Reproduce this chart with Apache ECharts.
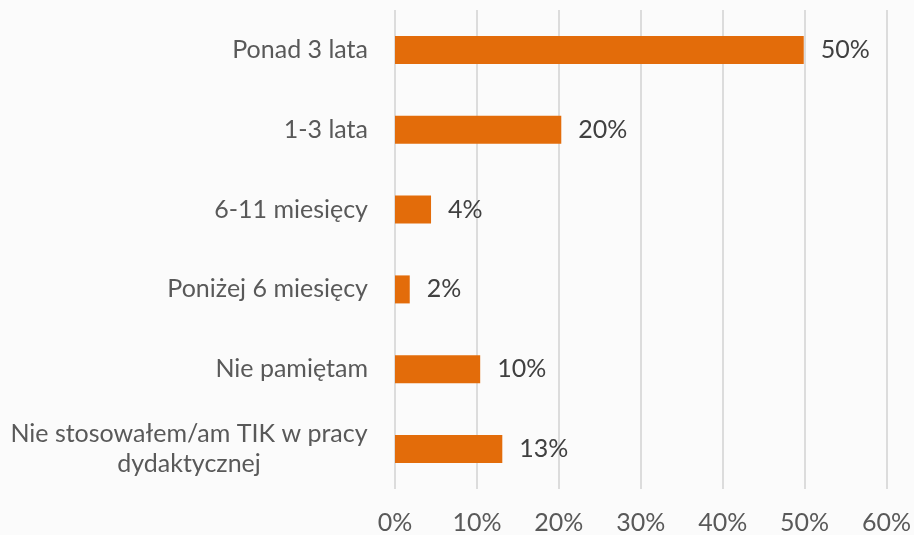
<!DOCTYPE html>
<html>
<head>
<meta charset="utf-8">
<script src="https://cdn.jsdelivr.net/npm/echarts@6/dist/echarts.min.js"></script>
<style>
html, body { margin: 0; padding: 0; background: #fbfbfb; }
#chart { width: 914px; height: 535px; }
</style>
</head>
<body>
<div id="chart"></div>
<script>
// kategorie od góry
const categories = [
    'Ponad 3 lata',
    '1-3 lata',
    '6-11 miesięcy',
    'Poniżej 6 miesięcy',
    'Nie pamiętam',
    'Nie stosowałem/am TIK w pracy\ndydaktycznej'
];
// odsetek odpowiedzi (%)
const values = [49.9, 20.3, 4.4, 1.8, 10.4, 13.1];
const xTicks = [0, 10, 20, 30, 40, 50, 60];

const fontFamily = 'Lato';
const fontSize = 25;

// szerokość najdłuższej linii, żeby wyśrodkować dwuliniową etykietę
let ctx = document.createElement('canvas').getContext('2d');
ctx.font = fontSize + 'px ' + fontFamily;
let wrapWidth = Math.ceil(ctx.measureText('Nie stosowałem/am TIK w pracy').width);

let chart = echarts.init(document.getElementById('chart'));
let option = {
    backgroundColor: '#fbfbfb',
    textStyle: { fontFamily: fontFamily },
    grid: { left: 395, right: 25, top: 10, bottom: 44 },
    xAxis: {
        type: 'value',
        min: xTicks[0],
        max: xTicks[xTicks.length - 1],
        interval: 10,
        axisLine: { show: false },
        axisTick: { show: false },
        splitLine: { lineStyle: { color: '#dcdcdc', width: 2 } },
        axisLabel: {
            formatter: '{value}%',
            color: '#595959',
            fontSize: fontSize,
            margin: 21
        }
    },
    yAxis: {
        type: 'category',
        inverse: true,
        data: categories,
        axisLine: { show: false },
        axisTick: { show: false },
        axisLabel: {
            color: '#595959',
            fontSize: fontSize,
            margin: 27,
            lineHeight: 30,
            formatter: function (v) {
                if (v.indexOf('\n') < 0) return v;
                return v.split('\n').map(function (s) { return '{c|' + s + '}'; }).join('\n');
            },
            rich: {
                c: { width: wrapWidth, align: 'center', fontSize: fontSize, color: '#595959', lineHeight: 30 }
            }
        }
    },
    series: [
        {
            type: 'bar',
            data: values,
            barWidth: 28,
            itemStyle: { color: '#e36c0a' },
            label: {
                show: true,
                position: 'right',
                distance: 17,
                color: '#404040',
                fontSize: fontSize,
                formatter: function (p) { return Math.round(p.value) + '%'; }
            }
        }
    ]
};
chart.setOption(option);
</script>
</body>
</html>
